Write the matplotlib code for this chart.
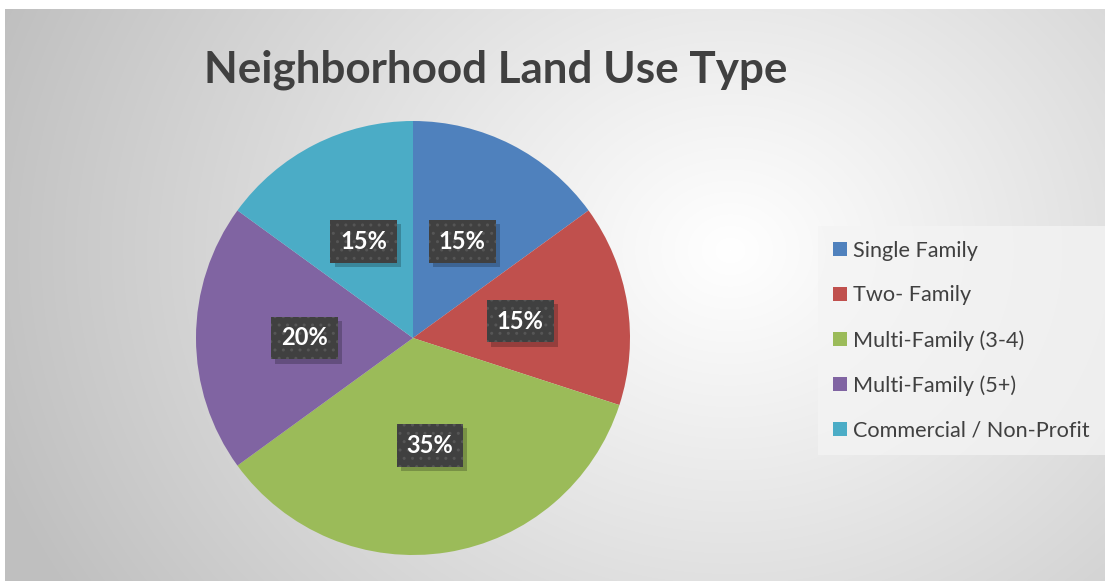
import numpy as np
import matplotlib.pyplot as plt
from matplotlib.lines import Line2D
from matplotlib import patheffects

# dados do grafico
categorias = ["Single Family", "Two- Family", "Multi-Family (3-4)",
              "Multi-Family (5+)", "Commercial / Non-Profit"]
percentuais = [15, 15, 35, 20, 15]
cores = ["#4F81BD", "#C0504D", "#9BBB59", "#8064A2", "#4BACC6"]
titulo = "Neighborhood Land Use Type"

W, H = 1105, 581
plt.rcParams["font.family"] = ["Lato", "DejaVu Sans"]

fig = plt.figure(figsize=(W / 100, H / 100), dpi=100)

# fundo com gradiente radial (branco no centro-direita, cinza nas bordas)
bg = fig.add_axes([0, 0, 1, 1])
yy, xx = np.mgrid[0:H, 0:W]
d = np.hypot((xx - 730) / 1.0, (yy - 250) / 0.85)
v = 1 - 0.25 * np.clip(d / 780, 0, 1) ** 1.05
v[:, :5] = 1.0
v[:9, :] = 1.0
bg.imshow(np.dstack([v, v, v]), extent=[0, W, H, 0], interpolation="bilinear", aspect="auto")
bg.set_xlim(0, W)
bg.set_ylim(H, 0)
bg.axis("off")

# pizza
cx, cy, r = 413, 338, 217
ax = fig.add_axes([(cx - r) / W, (H - cy - r) / H, 2 * r / W, 2 * r / H])
wedges, _ = ax.pie(percentuais, colors=cores, startangle=90, counterclock=False,
                   wedgeprops=dict(linewidth=0))
ax.set_xlim(-1, 1)
ax.set_ylim(-1, 1)
ax.axis("off")

# rotulos com caixa escura pontilhada e sombra
for w, p in zip(wedges, percentuais):
    ang = np.deg2rad((w.theta1 + w.theta2) / 2)
    x, y = 0.5 * np.cos(ang), 0.5 * np.sin(ang)
    t = ax.text(x, y, f"{p}%", ha="center", va="center",
                fontsize=17, fontweight="bold", color="white",
                bbox=dict(boxstyle="square,pad=0.42", fc="#404040", ec="#565656",
                          lw=0, hatch=".."))
    t.get_bbox_patch().set_path_effects([
        patheffects.SimplePatchShadow(offset=(3, -3), shadow_rgbFace="black",
                                      alpha=0.22, hatch=None),
        patheffects.Normal()])

# titulo
fig.text(496 / W, (H - 82) / H, titulo, ha="center", va="baseline",
         fontsize=31.7, fontweight="bold", color="#404040")

# legenda
handles = [Line2D([], [], marker="s", linestyle="none", markersize=10,
                  markerfacecolor=c, markeredgewidth=0) for c in cores]
leg = fig.legend(handles, categorias, loc="upper left",
                 bbox_to_anchor=(818 / W, (H - 226) / H), borderaxespad=0,
                 fontsize=15.6, labelcolor="#404040", frameon=True, fancybox=False,
                 borderpad=0.68, labelspacing=1.14, handlelength=0.7,
                 handletextpad=0.25)
leg.get_frame().set_facecolor("#f4f4f4")
leg.get_frame().set_alpha(0.75)
leg.get_frame().set_linewidth(0)

fig.savefig("out.png", dpi=100)
